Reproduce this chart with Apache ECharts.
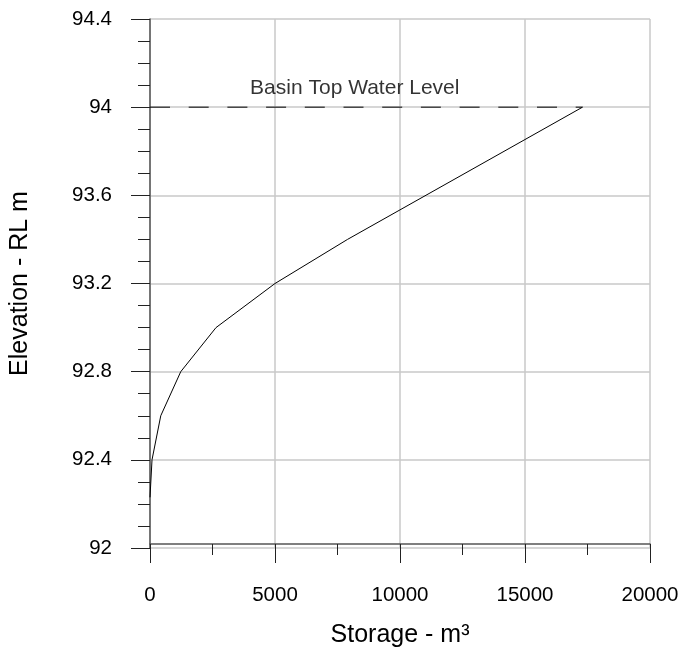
<!DOCTYPE html>
<html>
<head>
<meta charset="utf-8">
<title>Storage - Elevation</title>
<script src="https://cdn.jsdelivr.net/npm/echarts@6/dist/echarts.min.js"></script>
<style>
  html, body { margin: 0; padding: 0; background: #fff; }
  #chart { width: 683px; height: 655px; }
</style>
</head>
<body>
<div id="chart"></div>
<script>
// storage (m3) vs elevation (RL m)
const storage = [0, 80, 430, 1230, 2640, 5000, 7900, 17300];
const elevation = [92.23, 92.4, 92.6, 92.8, 93.0, 93.2, 93.4, 94.0];
// basin top water level line
const topLevel = 94.0;
const topLevelStorage = [0, 17300];
const topLabel = 'Basin Top Water Level';
const topLabelAt = 8190;

const FONT = 'Liberation Sans, Arial, sans-serif';

const chart = echarts.init(document.getElementById('chart'));

const option = {
  animation: false,
  backgroundColor: '#fff',
  grid: { left: 150, right: 33, top: 19, bottom: 107 },
  xAxis: {
    type: 'value',
    min: 0,
    max: 20000,
    interval: 5000,
    offset: -4,
    name: 'Storage - m³',
    nameLocation: 'middle',
    nameGap: 79,
    nameTextStyle: { fontFamily: FONT, fontSize: 25, color: '#000' },
    axisLine: { show: true, lineStyle: { color: '#555', width: 1.5 } },
    axisTick: { show: true, length: 19, lineStyle: { color: '#222', width: 1 } },
    minorTick: { show: true, splitNumber: 2, length: 11, lineStyle: { color: '#222', width: 1 } },
    axisLabel: {
      margin: 41,
      fontFamily: FONT,
      fontSize: 20.5,
      color: '#000',
      formatter: (v) => String(v)
    },
    splitLine: { show: true, lineStyle: { color: '#c8c8c8', width: 1.5 } }
  },
  yAxis: {
    type: 'value',
    min: 92,
    max: 94.4,
    interval: 0.4,
    name: 'Elevation - RL m',
    nameLocation: 'middle',
    nameGap: 117,
    nameTextStyle: { fontFamily: FONT, fontSize: 25, color: '#000' },
    axisLine: { show: true, lineStyle: { color: '#555', width: 1.5 } },
    axisTick: { show: true, length: 19, lineStyle: { color: '#222', width: 1 } },
    minorTick: { show: true, splitNumber: 4, length: 12, lineStyle: { color: '#222', width: 1 } },
    axisLabel: {
      margin: 38,
      fontFamily: FONT,
      fontSize: 20.5,
      color: '#000',
      formatter: (v) => String(+v.toFixed(1))
    },
    splitLine: { show: true, lineStyle: { color: '#c8c8c8', width: 1.5 } }
  },
  series: [
    {
      name: 'curve',
      type: 'line',
      data: storage.map((s, i) => [s, elevation[i]]),
      showSymbol: false,
      lineStyle: { color: '#000', width: 1 },
      z: 3
    },
    {
      name: 'top level',
      type: 'line',
      data: topLevelStorage.map((s) => [s, topLevel]),
      showSymbol: false,
      lineStyle: { color: '#000', width: 1, type: [20, 18.7] },
      z: 3
    },
    {
      name: 'label',
      type: 'scatter',
      data: [[topLabelAt, topLevel]],
      symbolSize: 0,
      silent: true,
      label: {
        show: true,
        position: 'top',
        distance: 8,
        formatter: topLabel,
        fontFamily: FONT,
        fontSize: 21,
        color: '#000'
      },
      z: 4
    }
  ]
};

chart.setOption(option);
</script>
</body>
</html>
